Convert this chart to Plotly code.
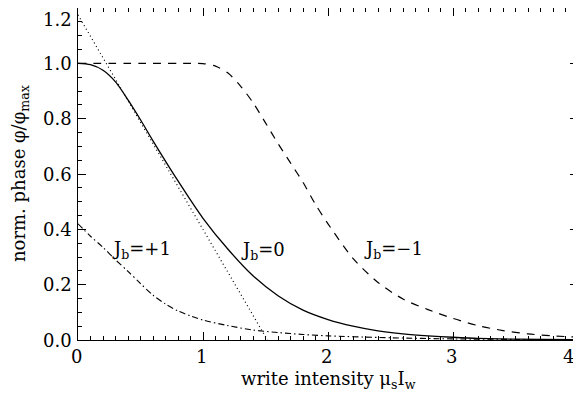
import plotly.graph_objects as go

# J_b = 0 (solid)
x_j0 = [0, 0.1, 0.2, 0.3, 0.4, 0.5, 0.6, 0.8, 1.0, 1.2, 1.4, 1.6, 1.8, 2.0, 2.2, 2.4, 2.6, 2.8, 3.0, 3.2, 3.5, 4.0]
y_j0 = [1.0, 0.995, 0.975, 0.933, 0.868, 0.796, 0.72, 0.575, 0.44, 0.328, 0.232, 0.16, 0.108, 0.074, 0.05, 0.033, 0.022, 0.015, 0.01, 0.006, 0.003, 0.001]

# J_b = -1 (dashed)
x_jm1 = [0, 0.5, 0.9, 1.0, 1.1, 1.2, 1.3, 1.4, 1.5, 1.6, 1.7, 1.8, 1.9, 2.0, 2.2, 2.4, 2.6, 2.8, 3.0, 3.2, 3.4, 3.6, 3.8, 4.0]
y_jm1 = [1.0, 1.0, 1.0, 0.999, 0.99, 0.965, 0.918, 0.858, 0.785, 0.71, 0.64, 0.57, 0.49, 0.42, 0.295, 0.208, 0.148, 0.11, 0.078, 0.052, 0.034, 0.022, 0.015, 0.01]

# J_b = +1 (dash-dot)
x_jp1 = [0, 0.1, 0.2, 0.3, 0.4, 0.5, 0.6, 0.7, 0.8, 0.9, 1.0, 1.2, 1.4, 1.6, 1.8, 2.0, 2.5, 3.0, 3.5, 4.0]
y_jp1 = [0.42, 0.375, 0.335, 0.29, 0.248, 0.204, 0.162, 0.13, 0.105, 0.087, 0.072, 0.052, 0.036, 0.027, 0.02, 0.015, 0.008, 0.004, 0.002, 0.001]

# tangent (dotted)
x_tan = [0, 1.515]
y_tan = [1.175, 0.0]

labels = ["J<sub>b</sub>=+1", "J<sub>b</sub>=0", "J<sub>b</sub>=−1"]
label_x = [0.51, 1.48, 2.52]
label_y = [0.325, 0.32, 0.325]

x_ticks = [0, 1, 2, 3, 4]
y_ticks = [0.0, 0.2, 0.4, 0.6, 0.8, 1.0, 1.2]

x_title = "write intensity μ<sub>s</sub>I<sub>w</sub>"
y_title = "norm. phase φ/φ<sub>max</sub>"

FONT = "DejaVu Serif"
X_MAX = 4
Y_MAX = 1.2
TXT = dict(family=FONT, size=18, color="black")

fig = go.Figure()
fig.add_trace(go.Scatter(x=x_j0, y=y_j0, mode="lines", line=dict(color="black", width=1.3, shape="spline", smoothing=0.8), showlegend=False))
fig.add_trace(go.Scatter(x=x_jm1, y=y_jm1, mode="lines", line=dict(color="black", width=1.2, dash="8px,7px", shape="spline", smoothing=0.8), showlegend=False))
fig.add_trace(go.Scatter(x=x_jp1, y=y_jp1, mode="lines", line=dict(color="black", width=1.1, dash="6px,3px,1.5px,3px", shape="spline", smoothing=0.8), showlegend=False))
fig.add_trace(go.Scatter(x=x_tan, y=y_tan, mode="lines", line=dict(color="black", width=1.2, dash="1px,3px"), showlegend=False))

for t, lx, ly in zip(labels, label_x, label_y):
    fig.add_annotation(x=lx, y=ly, text=t, showarrow=False, font=TXT)

# tick labels as annotations (so the edge labels stay visible like the reference)
for v in x_ticks:
    last = v == x_ticks[-1]
    fig.add_annotation(x=v / X_MAX, xref="paper", y=0, yref="paper", text=str(v), showarrow=False,
                       xanchor=("right" if last else "center"), yanchor="middle",
                       xshift=-2, yshift=-16, font=TXT)
for v in y_ticks:
    top = v == y_ticks[-1]
    fig.add_annotation(x=0, xref="paper", y=v / Y_MAX, yref="paper", text="%.1f" % v, showarrow=False,
                       xanchor="right", yanchor=("top" if top else "middle"), xshift=-5,
                       borderpad=0, font=TXT)

# axis titles
fig.add_annotation(x=0.5, xref="paper", y=0, yref="paper", text=x_title, showarrow=False,
                   xanchor="center", yanchor="middle", yshift=-40, font=TXT)
fig.add_annotation(x=0, xref="paper", y=0.5, yref="paper", text=y_title, showarrow=False, textangle=-90,
                   xanchor="center", yanchor="middle", xshift=-58, font=TXT)

fig.update_layout(
    width=573, height=392,
    margin=dict(l=70, r=3, t=0, b=60),
    paper_bgcolor="white", plot_bgcolor="white",
    font=TXT,
)
fig.update_xaxes(
    range=[0, X_MAX], tickvals=x_ticks, showticklabels=False, automargin=False,
    showgrid=False, zeroline=False, showline=True, linecolor="black", linewidth=1, mirror="allticks",
    ticks="inside", ticklen=8, tickwidth=1, tickcolor="black",
    minor=dict(dtick=0.1, ticks="inside", ticklen=4, tickwidth=1, tickcolor="black", showgrid=False),
)
fig.update_yaxes(
    range=[0, Y_MAX], tickvals=y_ticks, showticklabels=False, automargin=False,
    showgrid=False, zeroline=False, showline=True, linecolor="black", linewidth=1, mirror="allticks",
    ticks="inside", ticklen=8, tickwidth=1, tickcolor="black",
    minor=dict(dtick=0.05, ticks="inside", ticklen=4, tickwidth=1, tickcolor="black", showgrid=False),
)

fig.write_html("out.html")
